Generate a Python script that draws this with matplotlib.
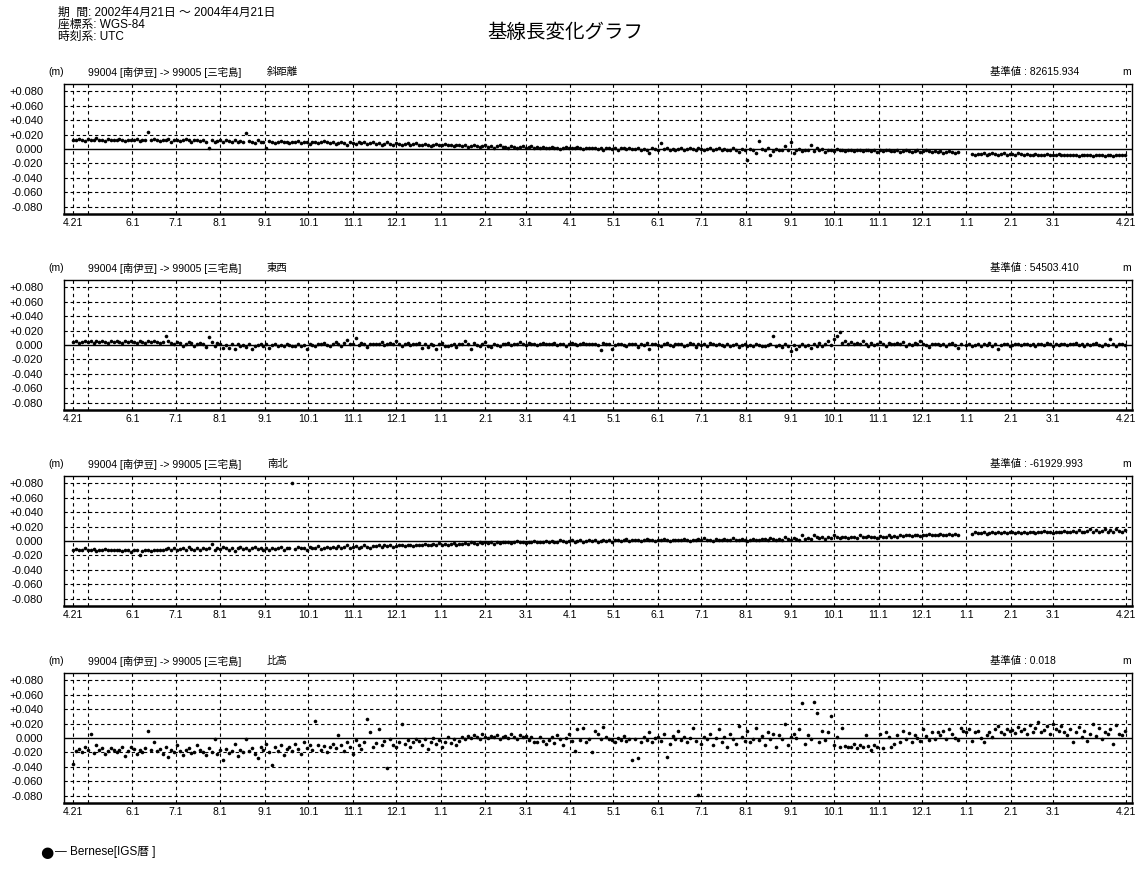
import matplotlib
matplotlib.use('Agg')
import matplotlib.pyplot as plt
import numpy as np

plt.rcParams['font.family'] = ['Liberation Sans', 'Noto Sans CJK JP']

# daily solutions, one every second day from 2002-04-21, in mm
slope_mm = [
    13, 12, 14, 13, 11, 14, 12, 13, 15, 12, 13, 11, 14, 13, 12,
    12, 14, 13, 11, 12, 13, 12, 14, 11, 13, 12, 23, 12, 14, 13,
    11, 13, 12, 14, 10, 12, 13, 11, 12, 14, 12, 10, 13, 12, 11,
    12, 10, 1, 13, 9, 11, 12, 10, 12, 11, 9, 12, 10, 11, 10,
    22, 11, 10, 8, 12, 10, 9, 2, 11, 10, 8, 10, 11, 9, 10,
    8, 10, 9, 11, 8, 9, 10, 7, 9, 10, 8, 9, 11, 9, 8,
    9, 7, 8, 10, 8, 6, 9, 8, 7, 9, 8, 10, 7, 8, 9,
    7, 8, 6, 7, 9, 7, 6, 8, 7, 5, 7, 8, 6, 7, 8,
    6, 5, 7, 6, 4, 6, 7, 5, 6, 7, 5, 6, 4, 6, 5,
    4, 5, 3, 4, 6, 4, 3, 4, 5, 3, 4, 2, 4, 5, 3,
    3, 2, 4, 3, 1, 3, 4, 2, 3, 4, 2, 3, 1, 3, 2,
    2, 3, 1, 2, 0, 2, 3, 1, 2, 1, 3, 2, 0, 2, 1,
    1, 2, 0, 1, -1, 1, 2, 0, 1, -1, 1, 2, 0, 1, 0,
    0, 1, -1, 0, -2, -5, 1, 0, -1, 8, 0, 1, -1, 0, -1,
    0, 1, -1, 0, 2, 0, -1, 1, 0, -2, 0, 1, -1, 0, 1,
    -1, 0, -2, -1, 1, -1, -4, 0, -1, -15, 0, -1, -5, 11, 0,
    -2, 1, -8, -3, 0, -2, -1, 4, -2, 9, -6, -1, 0, -3, -1,
    -2, 6, -3, 2, -2, 0, -4, -2, -1, -3, 0, -2, -1, -3, -2,
    -2, -3, -1, -2, -3, -2, -1, -3, -2, -4, -2, -3, -2, -1, -3,
    -3, -2, -4, -3, -2, -3, -4, -3, -2, -4, -3, -2, -3, -4, -3,
    -4, -3, -5, -4, -3, -4, -5, -4, None, None, None, None, -7, -8, -7,
    -7, -6, -8, -7, -6, -7, -8, -7, -6, -8, -7, -7, -8, -6, -7,
    -8, -7, -8, -9, -7, -8, -8, -9, -7, -8, -9, -8, -7, -8, -9,
    -9, -8, -9, -8, -10, -9, -8, -9, -9, -10, -8, -9, -9, -10, -9,
    -9, -10, -9, -8, -9, -8,
]

ew_mm = [
    4, 5, 3, 4, 6, 4, 5, 3, 5, 4, 6, 4, 3, 5, 4,
    5, 4, 3, 5, 4, 6, 4, 3, 5, 4, 3, 5, 4, 6, 4,
    3, 4, 12, 5, 3, 1, 4, 3, -1, 2, 4, 3, -2, 1, 3,
    2, -3, 11, 4, -1, 3, 2, -4, 0, -4, 2, -5, 1, -2, 0,
    -3, 1, -6, -2, 0, 1, -1, 1, -4, 0, 2, -1, 0, -2, 1,
    0, -1, -2, 1, -1, 0, -5, 1, 0, -1, 2, 1, 3, 0, -1,
    1, 4, 2, -1, 3, 7, 2, 1, 9, 0, 3, 2, -3, 1, 2,
    2, 1, 4, 0, 2, 3, 1, 5, 2, -2, 1, 3, 0, 2, 1,
    3, -4, 1, -3, 2, 0, -5, 1, 3, -1, -2, 0, 2, -3, 1,
    2, 5, 1, -6, 3, 0, -2, 1, 4, -1, -3, 1, 0, -2, 2,
    1, 3, 0, 2, 1, 4, 2, 0, 3, 1, 2, 0, 1, 3, 2,
    2, 1, 3, 0, 2, 1, -1, 2, 3, 1, 0, 2, 3, 1, 2,
    1, 2, 0, -7, 3, 1, 2, -6, 0, 1, 2, 0, -1, 2, 1,
    2, -3, 1, 0, 3, -5, 1, 2, 0, -2, 1, 3, 0, -1, 2,
    1, 2, -1, 0, 3, 1, -3, 2, 0, 1, -2, 3, 1, 0, 2,
    0, -2, 1, -1, 0, 2, -3, 0, 1, -1, 0, -2, 1, 0, -1,
    -1, 0, 2, 12, -2, 0, -3, 1, -1, -9, 0, -6, -2, 1, -1,
    0, -4, 1, -2, 3, -1, 2, 5, 0, 8, 12, 18, 3, 6, 2,
    4, 1, 3, 2, 5, 1, -2, 3, 0, 2, 4, 1, -1, 3, 2,
    2, 3, 1, 4, -2, 2, 0, 3, 1, 5, 2, 0, -3, 2, 1,
    1, 0, 2, -1, 1, 3, 0, -4, 1, None, 0, 1, -1, 0, 2,
    -2, 1, 0, 3, -1, 1, -5, 0, 2, 1, -1, 0, 2, 1, 0,
    1, 2, 0, 1, -1, 2, 1, 0, 3, 1, -2, 1, 0, 2, 1,
    0, 2, 1, 3, 0, 1, -1, 2, 0, 1, 3, 0, -2, 1, 0,
    8, 1, -1, 2, 1, 0,
]

ns_mm = [
    -12, -11, -13, -12, -10, -13, -12, -11, -14, -12, -13, -11, -12, -13, -12,
    -13, -12, -14, -13, -12, -15, -13, -12, -19, -14, -13, -12, -14, -13, -12,
    -12, -13, -11, -10, -12, -9, -13, -11, -10, -12, -8, -11, -13, -10, -12,
    -9, -11, -10, -4, -12, -9, -11, -8, -10, -12, -9, -14, -10, -8, -11,
    -9, -12, -10, -8, -11, -9, -13, -10, -12, -9, -11, -10, -8, -12, -10,
    -9, 80, -11, -8, -10, -9, -12, -8, -10, -9, -7, -11, -9, -8, -10,
    -8, -9, -7, -10, -8, -6, -9, -8, -7, -9, -8, -6, -8, -9, -7,
    -7, -6, -8, -5, -7, -6, -8, -7, -5, -6, -7, -5, -6, -7, -6,
    -5, -6, -4, -5, -6, -4, -5, -3, -5, -4, -6, -4, -3, -5, -4,
    -4, -3, -4, -2, -3, -4, -2, -3, -1, -3, -2, -4, -2, -3, -2,
    -2, -1, -3, -2, 0, -2, -1, -3, -1, -2, 0, -1, -2, -1, 0,
    -1, 0, -2, -1, 1, 0, -1, 0, 1, -1, 0, 1, -1, 0, 1,
    0, 1, -1, 0, 2, 0, 1, -1, 1, 2, 0, 1, 3, 0, 1,
    1, 2, 0, 1, 3, 1, 2, 0, 2, 1, 3, 1, 0, 2, 1,
    2, 1, 3, 2, 0, 2, 1, 3, 2, 4, 1, 2, 0, 3, 2,
    2, 3, 1, 2, 4, 2, 1, 3, 2, 0, 2, 3, 1, 2, 3,
    3, 2, 4, 3, 1, 3, 2, 5, 3, 2, 4, 3, 2, 8, 3,
    4, 3, 9, 5, 4, 6, 3, 5, 4, 8, 5, 4, 6, 5, 4,
    5, 6, 4, 9, 5, 6, 7, 5, 6, 4, 7, 6, 5, 8, 6,
    7, 6, 8, 7, 9, 8, 7, 9, 8, 7, 9, 8, 10, 9, 8,
    9, 10, 9, 8, 10, 9, 10, 9, None, None, None, None, 10, 12, 11,
    11, 12, 10, 11, 12, 11, 13, 11, 12, 11, 12, 13, 11, 12, 11,
    12, 11, 13, 12, 11, 13, 12, 14, 12, 13, 11, 12, 13, 12, 14,
    13, 12, 14, 13, 15, 13, 12, 14, 16, 13, 15, 12, 14, 17, 13,
    15, 13, 16, 14, 12, 15,
]

up_mm = [
    -36, -18, -15, -20, -12, -17, 5, -21, -10, -16, -14, -22, -18, -14, -17,
    -20, -16, -13, -25, -18, -12, -15, -22, -17, -19, -14, 10, -16, -6, -18,
    -15, -22, -13, -26, -17, -20, -10, -18, -23, -16, -14, -21, -19, -9, -17,
    -19, -24, -14, -20, -2, -22, -17, -30, -15, -21, -18, -8, -25, -16, -20,
    -2, -18, -14, -22, -27, -12, -16, -8, -20, -38, -13, -18, -10, -24, -15,
    -12, -18, -8, -15, -22, -6, -14, -10, -17, 24, -9, -16, -11, -20, -13,
    -8, -14, 4, -10, -18, -5, -12, -22, -3, -9, -15, -6, 26, 8, -13,
    -7, 12, -10, -4, -42, -2, -9, -13, -5, 20, -8, -3, -12, -6, -1,
    -4, -10, -2, -15, -6, 0, -8, -3, -12, -5, 1, -7, -2, -9, -4,
    2, -1, 3, 0, 4, 1, -2, 5, 2, 0, 3, 1, 4, -1, 2,
    3, 0, 5, 2, -1, 4, 1, 3, -3, 2, -5, -6, 1, -4, -8,
    -3, 2, -7, 4, -2, -9, 0, 6, -4, -18, 12, -3, 14, -5, -2,
    -20, 10, 6, -1, 15, 2, -2, -3, -6, 0, -3, 3, -4, -1, -30,
    -2, -28, -5, 1, -3, 8, -6, 0, 2, -4, 6, -26, -8, 3, -2,
    10, -3, 2, -6, 0, 14, -4, -79, -8, 1, -2, 5, -10, 0, 12,
    -5, 2, -12, 6, -2, -8, 16, 1, -4, 10, -6, -1, 14, -3, 3,
    -10, 8, -2, 6, -12, 4, -1, 20, -10, 2, 6, 0, 12, 48, -8,
    4, -2, 50, 34, -5, 10, -3, 8, 30, -10, 2, -12, 14, -11, -12,
    -12, -8, -14, -10, -13, 4, -11, -16, -9, -13, 6, -14, 8, 2, -12,
    -8, 4, -5, 10, -2, 7, -6, 4, 0, -4, 12, 3, -3, 8, -1,
    8, 4, 10, -2, 12, 6, 0, -3, 14, 10, 8, 12, -4, 8, 10,
    0, -6, 4, 8, 2, 12, 16, 9, 6, 13, 10, 11, 7, 15, 10,
    12, 6, 18, 9, 14, 22, 8, 11, 16, 5, 20, 13, 10, 17, 8,
    4, 12, -6, 8, 15, 2, 10, -4, 6, 20, 3, 14, -2, 9, 5,
    12, -8, 18, 6, 4, 10,
]

components = ['斜距離', '東西', '南北', '比高']
base_values = ['82615.934', '54503.410', '-61929.993', '0.018']
series = [slope_mm, ew_mm, ns_mm, up_mm]
baseline = '99004 [南伊豆] -> 99005 [三宅島]'

ytick_vals = [0.08, 0.06, 0.04, 0.02, 0.0, -0.02, -0.04, -0.06, -0.08]
ytick_text = ['+0.080', '+0.060', '+0.040', '+0.020', '0.000',
              '-0.020', '-0.040', '-0.060', '-0.080']

start = np.datetime64('2002-04-21')
end = np.datetime64('2004-04-21')
months = np.arange('2002-05', '2004-04', dtype='datetime64[M]')
tick_dates = [start] + [m.astype('datetime64[D]') for m in months] + [end]
tick_x = [int((d - start).astype(int)) for d in tick_dates]
tick_lbl = ['4.21'] + ['%d.1' % (m.astype(object).month) for m in months] + ['4.21']
tick_lbl[1] = ''   # 5.1 too close to the start label

W, H = 1135, 871
fig = plt.figure(figsize=(W / 100, H / 100), dpi=100)
fig.patch.set_facecolor('white')


def axes_px(left, top, right, bottom):
    return fig.add_axes([left / W, 1 - bottom / H, (right - left) / W, (bottom - top) / H])


fig.text(58 / W, 1 - 13 / H, '期  間: 2002年4月21日 ～ 2004年4月21日', fontsize=8.5, va='center')
fig.text(58 / W, 1 - 25 / H, '座標系: WGS-84', fontsize=8.5, va='center')
fig.text(58 / W, 1 - 37 / H, '時刻系: UTC', fontsize=8.5, va='center')
fig.text(565 / W, 1 - 32 / H, '基線長変化グラフ', fontsize=14, ha='center', va='center',
         family='Noto Sans CJK JP')

tops = [84, 280, 476, 673]
for top, comp, base, vals in zip(tops, components, base_values, series):
    ax = axes_px(64, top, 1132, top + 130)
    y = np.array(vals, dtype=float) / 1000.0
    x = np.arange(len(y)) * 2
    ax.plot(x, y, 'o', color='black', ms=2.6, mew=0)

    ax.set_xlim(-6.5, 735)
    ax.set_ylim(-0.09, 0.09)
    ax.axhline(0, color='black', lw=1.0)
    for v in ytick_vals:
        if v != 0:
            ax.axhline(v, color='black', lw=0.8, ls=(0, (3, 2.5)))
    for t in tick_x:
        ax.axvline(t, color='black', lw=0.8, ls=(0, (3, 3)))

    ax.set_yticks(ytick_vals)
    ax.set_yticklabels(ytick_text, fontsize=8)
    ax.set_xticks(tick_x)
    ax.set_xticklabels(tick_lbl, fontsize=7.5)
    ax.tick_params(axis='y', length=0, pad=15)
    ax.tick_params(axis='x', length=0, pad=3)
    for s in ax.spines.values():
        s.set_linewidth(1.0)
    ax.spines['bottom'].set_linewidth(1.8)

    ty = 1 - (top - 12) / H
    fig.text(48 / W, ty, '(m)', fontsize=7.5, va='center')
    fig.text(88 / W, ty, baseline, fontsize=7.5, va='center')
    fig.text(267 / W, ty, comp, fontsize=7.5, va='center')
    fig.text(990 / W, ty, '基準値 : ' + base, fontsize=7.5, va='center')
    fig.text(1122 / W, ty, 'm', fontsize=7.5, va='center')

# legend line at the bottom
fig.text(40 / W, 1 - 852 / H, '●', fontsize=11, va='center', family='DejaVu Sans')
fig.text(55 / W, 1 - 852 / H, '— Bernese[IGS暦 ]', fontsize=8.5, va='center')

fig.savefig('out.png', dpi=100, facecolor='white')
